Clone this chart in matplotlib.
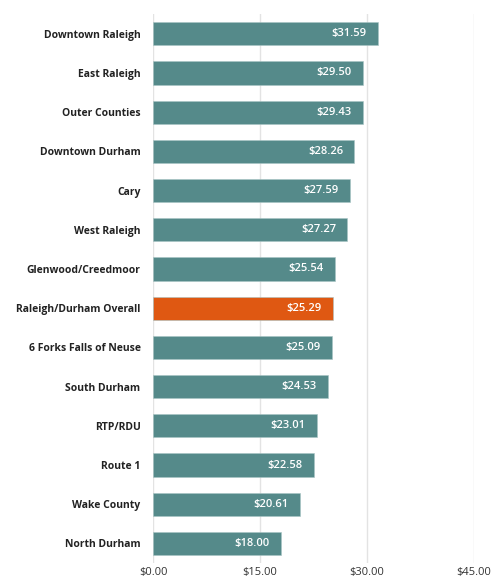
import matplotlib
matplotlib.use("Agg")
import matplotlib.pyplot as plt

# Data
regions = [
    "Downtown Raleigh", "East Raleigh", "Outer Counties", "Downtown Durham",
    "Cary", "West Raleigh", "Glenwood/Creedmoor", "Raleigh/Durham Overall",
    "6 Forks Falls of Neuse", "South Durham", "RTP/RDU", "Route 1",
    "Wake County", "North Durham",
]
rents = [31.59, 29.50, 29.43, 28.26, 27.59, 27.27, 25.54, 25.29,
         25.09, 24.53, 23.01, 22.58, 20.61, 18.00]
highlight = "Raleigh/Durham Overall"
x_ticks = [0, 15, 30, 45]

TEAL = "#558a8a"
ORANGE = "#df5812"

plt.rcParams["font.family"] = ["Open Sans", "DejaVu Sans"]

fig = plt.figure(figsize=(4.92, 5.79), dpi=100)
ax = fig.add_axes([0.311, 0.0276, 0.652, 0.948])

ypos = list(range(len(regions)))
colors = [ORANGE if r == highlight else TEAL for r in regions]
ax.barh(ypos, rents, height=0.59, color=colors, edgecolor="#a8c4c4",
        linewidth=0.4, zorder=3)

for y, v in zip(ypos, rents):
    ax.text(v - 1.6, y, f"${v:.2f}", color="white", ha="right", va="center",
            fontsize=8, fontweight="semibold", zorder=4)

ax.set_xlim(0, 45)
ax.set_ylim(len(regions) - 0.5, -0.5)
ax.set_xticks(x_ticks)
ax.set_xticklabels([f"${t:.2f}" for t in x_ticks], fontsize=8, color="#333333")
ax.set_yticks(ypos)
ax.set_yticklabels(regions, fontsize=7.5, fontweight="bold", color="#222222")
ax.tick_params(axis="both", length=0)
ax.tick_params(axis="y", pad=9)
ax.tick_params(axis="x", pad=3)
ax.grid(axis="x", color="#e3e3e3", linewidth=1, zorder=0)
for s in ax.spines.values():
    s.set_visible(False)

fig.savefig("out.png", dpi=100, facecolor="white")
